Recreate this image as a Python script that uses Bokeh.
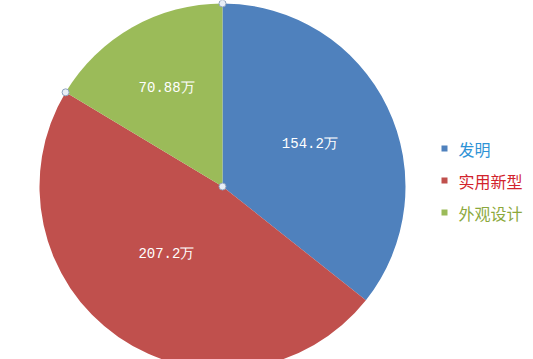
import math
from bokeh.plotting import figure
from bokeh.models import Range1d, ColumnDataSource
from bokeh.core.properties import value
from bokeh.embed import file_html
from bokeh.resources import INLINE

# ---- data ----
categories = ["发明", "实用新型", "外观设计"]
values = [154.2, 207.2, 70.88]
labels = ["154.2万", "207.2万", "70.88万"]

# ---- style / layout ----
slice_colors = ["#4F81BD", "#C0504D", "#9BBB59"]
legend_text_colors = ["#2E93D6", "#D2232C", "#8BA83C"]
W, H = 533, 359
CX, CY, R = 222, H - 186, 183
label_r = [0.53, 0.48, 0.62]
label_da = [0.0, 5.0, 0.0]  # degrees clockwise nudge

p = figure(width=W, height=H, output_backend="svg", toolbar_location=None,
           x_range=Range1d(0, W), y_range=Range1d(0, H),
           min_border=0)
p.axis.visible = False
p.grid.visible = False
p.outline_line_color = None
p.background_fill_color = "white"
p.border_fill_color = "white"

total = sum(values)
starts, ends, lx, ly = [], [], [], []
cum = 0.0
for i, v in enumerate(values):
    a0 = cum / total * 360.0
    cum += v
    a1 = cum / total * 360.0
    starts.append(math.radians(90 - a0))
    ends.append(math.radians(90 - a1))
    mid = (a0 + a1) / 2 + label_da[i]
    r = R * label_r[i]
    lx.append(CX + r * math.sin(math.radians(mid)))
    ly.append(CY + r * math.cos(math.radians(mid)))

src = ColumnDataSource(dict(start=starts, end=ends, color=slice_colors,
                            lx=lx, ly=ly, label=labels))
p.wedge(x=CX, y=CY, radius=R, start_angle="start", end_angle="end",
        direction="clock", fill_color="color", line_color=None, source=src)

p.text(x="lx", y="ly", text="label", source=src, text_color="white",
       text_font=value("Liberation Mono"), text_font_size="14px",
       text_align="center", text_baseline="middle")

# selection handles at the vertices of the last slice
a_last = sum(values[:-1]) / total * 360.0
hx = [CX, CX, CX + R * math.sin(math.radians(a_last))]
hy = [CY, CY + R, CY + R * math.cos(math.radians(a_last))]
p.scatter(x=hx, y=hy, size=7, fill_color="#E8EEF6", line_color="#8FA3BF",
          line_width=1)

# legend
leg_y = [H - 148, H - 180, H - 212]
p.scatter(x=[444] * 3, y=leg_y, marker="square", size=6, fill_color=slice_colors,
          line_color=None)
p.text(x=[458] * 3, y=leg_y, text=categories, text_color=legend_text_colors,
       text_font=value("Noto Sans CJK SC"), text_font_size="16px",
       text_align="left", text_baseline="middle")

open("out.html", "w").write(file_html(p, INLINE))
